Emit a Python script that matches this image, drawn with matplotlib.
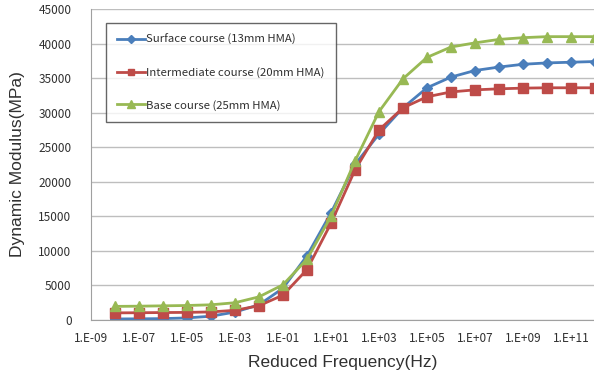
import numpy as np
import matplotlib
matplotlib.use('Agg')
import matplotlib.pyplot as plt
from matplotlib.ticker import FixedLocator

# reduced frequency (Hz), one point per decade
freq = [1e-8, 1e-7, 1e-6, 1e-5, 1e-4, 1e-3, 1e-2, 1e-1, 1e0, 1e1, 1e2,
        1e3, 1e4, 1e5, 1e6, 1e7, 1e8, 1e9, 1e10, 1e11, 1e12]

surface = [150, 170, 200, 300, 550, 1150, 2200, 4600, 9300, 15500, 22500,
           26900, 30700, 33600, 35150, 36100, 36600, 37000, 37200, 37300, 37400]
intermediate = [1030, 1050, 1080, 1100, 1170, 1400, 2070, 3600, 7300, 14000, 21700,
                27500, 30700, 32300, 33000, 33300, 33450, 33550, 33600, 33600, 33600]
base = [1970, 2000, 2050, 2100, 2200, 2500, 3350, 5100, 8800, 15000, 23000,
        30150, 34900, 38000, 39500, 40100, 40600, 40850, 41000, 41000, 41000]

xticks = [1e-9, 1e-7, 1e-5, 1e-3, 1e-1, 1e1, 1e3, 1e5, 1e7, 1e9, 1e11]
xticklabels = ['1.E-09', '1.E-07', '1.E-05', '1.E-03', '1.E-01', '1.E+01',
               '1.E+03', '1.E+05', '1.E+07', '1.E+09', '1.E+11']

plt.rcParams['font.family'] = ['Noto Sans CJK KR', 'DejaVu Sans']

fig = plt.figure(figsize=(5.94, 3.75), dpi=100)
ax = fig.add_axes([91/594, 1 - 320/375, 504/594, 311/375])

ax.plot(freq, surface, color='#4A7EBB', lw=2, marker='D', ms=5.5,
        label='Surface course (13mm HMA)')
ax.plot(freq, intermediate, color='#BE4B48', lw=2, marker='s', ms=6.5,
        label='Intermediate course (20mm HMA)')
ax.plot(freq, base, color='#98B954', lw=2, marker='^', ms=7.5,
        label='Base course (25mm HMA)')

ax.set_xscale('log')
ax.set_xlim(1e-9, 1e12)
ax.set_ylim(0, 45000)
ax.xaxis.set_major_locator(FixedLocator(xticks))
ax.set_xticklabels(xticklabels)
ax.xaxis.set_minor_locator(FixedLocator([]))
ax.set_yticks(range(0, 45001, 5000))

ax.grid(axis='y', color='#BEBEBE', lw=1)
ax.set_axisbelow(True)
for s in ['top', 'right']:
    ax.spines[s].set_visible(False)
for s in ['left', 'bottom']:
    ax.spines[s].set_color('#A0A0A0')
ax.tick_params(length=0, labelsize=8.5, labelcolor='#303030')
ax.tick_params(axis='y', pad=14)
ax.tick_params(axis='x', pad=9)

ax.set_xlabel('Reduced Frequency(Hz)', family='Liberation Sans', fontsize=12.5,
              color='#303030', labelpad=7)
ax.set_ylabel('Dynamic Modulus(MPa)', family='Liberation Sans', fontsize=12.5,
              color='#303030', labelpad=10)

leg = ax.legend(loc='upper left', bbox_to_anchor=(106/594, 1 - 23/375),
                bbox_transform=fig.transFigure, frameon=True, fancybox=False,
                fontsize=8.2, labelspacing=1.9, handlelength=2.4,
                handletextpad=0.1, borderpad=1.0, borderaxespad=0,
                markerscale=0.75)
leg.get_frame().set_edgecolor('#404040')
leg.get_frame().set_linewidth(1)
for t in leg.get_texts():
    t.set_color('#303030')

fig.savefig('out.png', dpi=100)
